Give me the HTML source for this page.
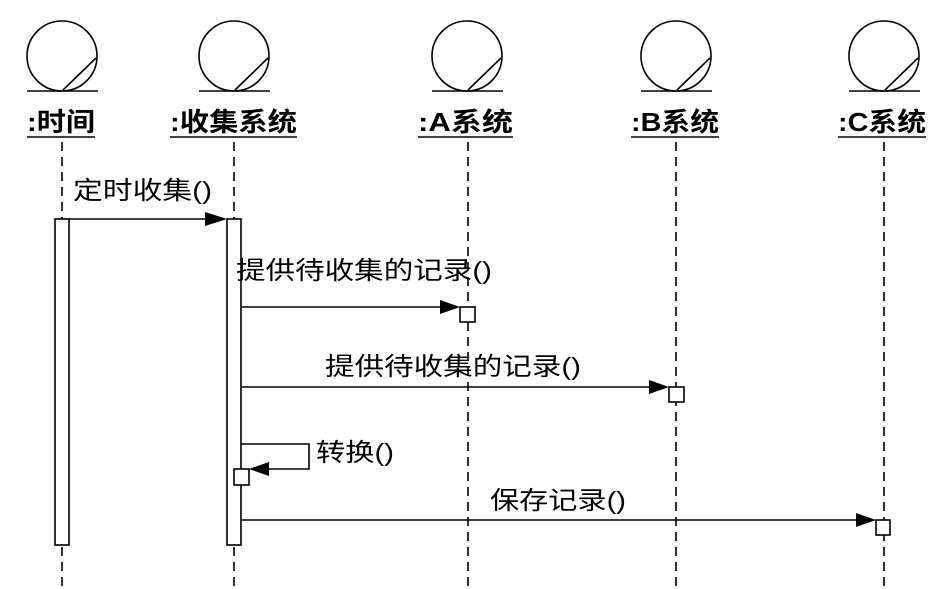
<!DOCTYPE html>
<html><head><meta charset="utf-8"><style>
html,body{margin:0;padding:0;background:#fff;}
svg{display:block;}
text{font-family:"Liberation Sans","Noto Sans CJK SC",sans-serif;fill:#000;}
.b{font-weight:bold;font-size:26px;}
.m{font-size:25px;}
</style></head><body>
<svg width="947" height="589" viewBox="0 0 947 589" xmlns="http://www.w3.org/2000/svg">
<defs>
<g id="obj" fill="none" stroke="#000" stroke-width="1.6">
<circle cx="0" cy="56" r="35"/>
<line x1="-35" y1="91" x2="36" y2="91"/>
<line x1="1" y1="90" x2="34" y2="58"/>
</g>
</defs>
<use href="#obj" x="62"/>
<use href="#obj" x="234"/>
<use href="#obj" x="467"/>
<use href="#obj" x="676"/>
<use href="#obj" x="884"/>
<g stroke="#000" stroke-width="1.6">
<line x1="27" y1="137" x2="95" y2="137"/>
<line x1="170" y1="137" x2="297" y2="137"/>
<line x1="418" y1="137" x2="513" y2="137"/>
<line x1="631" y1="137" x2="719" y2="137"/>
<line x1="838" y1="137" x2="926" y2="137"/>
</g>
<text class="b" x="27" y="131" textLength="68" lengthAdjust="spacingAndGlyphs">:时间</text>
<text class="b" x="170" y="131" textLength="127" lengthAdjust="spacingAndGlyphs">:收集系统</text>
<text class="b" x="418" y="131" textLength="95" lengthAdjust="spacingAndGlyphs">:A系统</text>
<text class="b" x="631" y="131" textLength="88" lengthAdjust="spacingAndGlyphs">:B系统</text>
<text class="b" x="838" y="131" textLength="88" lengthAdjust="spacingAndGlyphs">:C系统</text>
<g stroke="#000" stroke-width="1.6" stroke-dasharray="9,6" fill="none">
<line x1="62" y1="142" x2="62" y2="589"/>
<line x1="234" y1="142" x2="234" y2="589"/>
<line x1="468" y1="142" x2="468" y2="589"/>
<line x1="676" y1="142" x2="676" y2="589"/>
<line x1="884" y1="142" x2="884" y2="589"/>
</g>
<g stroke="#000" stroke-width="1.6" fill="#fff">
<rect x="55" y="219" width="14" height="326"/>
<rect x="227" y="219" width="14" height="326"/>
</g>
<g stroke="#000" stroke-width="1.6" fill="none">
<line x1="69" y1="219" x2="210" y2="219"/>
<line x1="241" y1="307" x2="445" y2="307"/>
<line x1="241" y1="387" x2="655" y2="387"/>
<polyline points="241,444 309,444 309,469 260,469"/>
<line x1="241" y1="520" x2="862" y2="520"/>
</g>
<g fill="#000">
<polygon points="205,212 227,219 205,226"/>
<polygon points="440,300 460,307 440,314"/>
<polygon points="649,380 669,387 649,394"/>
<polygon points="269,462 249,469 269,476"/>
<polygon points="856,513 876,520 856,527"/>
</g>
<g stroke="#000" stroke-width="1.6" fill="#fff">
<rect x="460" y="307" width="15" height="15"/>
<rect x="669" y="387" width="15" height="15"/>
<rect x="234" y="469" width="15" height="16"/>
<rect x="876" y="520" width="14" height="15"/>
</g>
<text class="m" x="73" y="199" textLength="139" lengthAdjust="spacingAndGlyphs">定时收集()</text>
<text class="m" x="236" y="279" textLength="256" lengthAdjust="spacingAndGlyphs">提供待收集的记录()</text>
<text class="m" x="325" y="375" textLength="256" lengthAdjust="spacingAndGlyphs">提供待收集的记录()</text>
<text class="m" x="316" y="461" textLength="78" lengthAdjust="spacingAndGlyphs">转换()</text>
<text class="m" x="490" y="509" textLength="136" lengthAdjust="spacingAndGlyphs">保存记录()</text>
</svg>
</body></html>
